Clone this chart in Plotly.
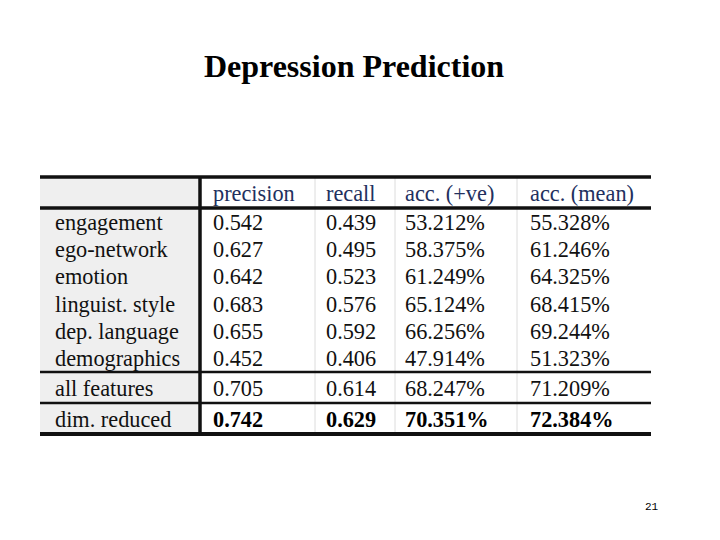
import plotly.graph_objects as go

# ---------------- data ----------------
title = "Depression Prediction"
headers = ["precision", "recall", "acc. (+ve)", "acc. (mean)"]
features = ["engagement", "ego-network", "emotion", "linguist. style",
            "dep. language", "demographics", "all features", "dim. reduced"]
precision = ["0.542", "0.627", "0.642", "0.683", "0.655", "0.452", "0.705", "0.742"]
recall = ["0.439", "0.495", "0.523", "0.576", "0.592", "0.406", "0.614", "0.629"]
acc_pos = ["53.212%", "58.375%", "61.249%", "65.124%", "66.256%", "47.914%", "68.247%", "70.351%"]
acc_mean = ["55.328%", "61.246%", "64.325%", "68.415%", "69.244%", "51.323%", "71.209%", "72.384%"]
page_number = "21"

# ---------------- layout geometry (pixels in the window) ----------------
W, H = 720, 540
OFF = 8  # page body margin
TEXT_DY = 2.5
col_edges = [40, 200, 315, 395, 517, 651]
pads = [15, 13, 11, 10, 13]
table_top = 177
row_heights = [31] + [27.33] * 6 + [31, 31]   # header + 8 data rows
row_edges = [table_top]
for h in row_heights:
    row_edges.append(row_edges[-1] + h)
row_centers = [(row_edges[i] + row_edges[i + 1]) / 2 + TEXT_DY for i in range(len(row_heights))]

FONT = "Liberation Serif, Times New Roman, serif"
SIZE = 22.3

columns = [features, precision, recall, acc_pos, acc_mean]

fig = go.Figure()

# cell text
for ci, col in enumerate(columns):
    xs, ys, txt = [], [], []
    bx, by, btxt = [], [], []
    for ri, val in enumerate(col):
        x = col_edges[ci] + pads[ci]
        y = row_centers[ri + 1]
        if ri == len(col) - 1 and ci > 0:
            bx.append(x); by.append(y); btxt.append(val)
        else:
            xs.append(x); ys.append(y); txt.append(val)
    fig.add_trace(go.Scatter(x=xs, y=ys, text=txt, mode="text",
                             textposition="middle right",
                             textfont=dict(family=FONT, size=SIZE, color="#111111"),
                             hoverinfo="skip", showlegend=False))
    if bx:
        fig.add_trace(go.Scatter(x=bx, y=by, text=btxt, mode="text",
                                 textposition="middle right",
                                 textfont=dict(family=FONT, size=SIZE, color="#000000", weight="bold"),
                                 hoverinfo="skip", showlegend=False))

# header text
fig.add_trace(go.Scatter(
    x=[col_edges[i + 1] + pads[i + 1] for i in range(len(headers))],
    y=[row_centers[0]] * len(headers),
    text=headers, mode="text", textposition="middle right",
    textfont=dict(family=FONT, size=SIZE, color="#22305e"),
    hoverinfo="skip", showlegend=False))

shapes = []
# gray label column background
shapes.append(dict(type="rect", xref="x", yref="y", x0=col_edges[0], x1=col_edges[1],
                   y0=row_edges[0], y1=row_edges[-1], fillcolor="#efefef",
                   line=dict(width=0), layer="below"))
# faint column separators
for xe in col_edges[2:5]:
    shapes.append(dict(type="line", xref="x", yref="y", x0=xe, x1=xe,
                       y0=row_edges[0], y1=row_edges[-1],
                       line=dict(color="#dcdcdc", width=1), layer="below"))
# thick horizontal rules
for idx, w in [(0, 3.5), (1, 3.5), (7, 2.5), (8, 2.5), (9, 4)]:
    shapes.append(dict(type="line", xref="x", yref="y", x0=col_edges[0], x1=col_edges[-1],
                       y0=row_edges[idx], y1=row_edges[idx],
                       line=dict(color="#111111", width=w)))
# thick vertical rule after label column
shapes.append(dict(type="line", xref="x", yref="y", x0=col_edges[1], x1=col_edges[1],
                   y0=row_edges[0], y1=row_edges[-1],
                   line=dict(color="#111111", width=3.5)))

fig.update_layout(
    width=W, height=H,
    margin=dict(l=0, r=0, t=0, b=0),
    paper_bgcolor="white", plot_bgcolor="white",
    xaxis=dict(range=[OFF, W + OFF], visible=False, fixedrange=True),
    yaxis=dict(range=[H + OFF, OFF], visible=False, fixedrange=True),
    shapes=shapes,
    title=dict(text="<b>" + title + "</b>", x=(354 - OFF) / W, xanchor="center",
               y=1 - (66 - OFF) / H, yanchor="middle",
               font=dict(family=FONT, size=32, color="#000000")),
    annotations=[dict(text=page_number, xref="x", yref="y", x=652, y=507,
                      showarrow=False, xanchor="center", yanchor="middle",
                      font=dict(family="Liberation Mono, monospace", size=11, color="#000000"))],
    showlegend=False,
)

fig.write_html("out.html")
